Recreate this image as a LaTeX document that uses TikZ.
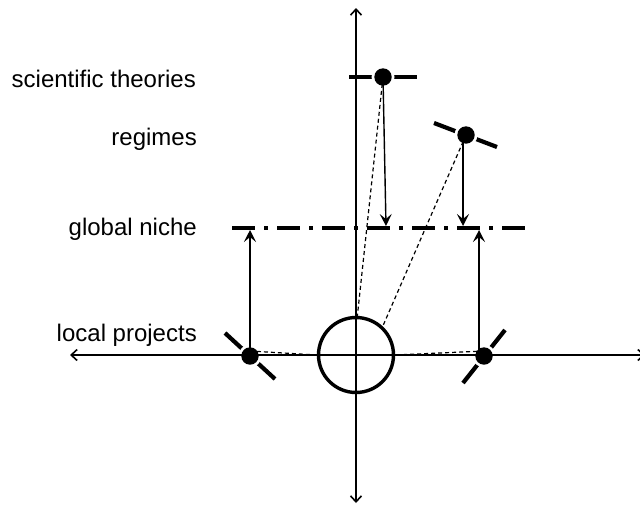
\documentclass[tikz,border=0pt]{standalone}
\usepackage{fontspec}
\setmainfont{Liberation Sans}
\usetikzlibrary{arrows.meta}
\begin{document}
\begin{tikzpicture}[x=1pt,y=-1pt,
  axis/.style={line width=1.4pt,{Straight Barb[length=6pt,width=11pt,line width=1.6pt]}-{Straight Barb[length=6pt,width=11pt,line width=1.6pt]}},
  proj/.style={line width=1.4pt,-{Stealth[length=12pt,width=12pt,inset=5pt]}},
  bar/.style={line width=4.2pt},
  link/.style={line width=1.2pt,dash pattern=on 4pt off 3pt},
  niche/.style={line width=3.2pt,dash pattern=on 23pt off 9pt on 4pt off 9pt},
  dotgap/.style={fill=white},
  lab/.style={anchor=base east,inner sep=0pt,font=\fontsize{24}{29}\selectfont}]
\useasboundingbox (0,0) rectangle (640,506);
% positions
\coordinate (st) at (383,77);
\coordinate (rg) at (466,135);
\coordinate (ld) at (250,356);
\coordinate (rd) at (484,356);
\coordinate (ldL) at (250,351);
\coordinate (rdL) at (484,351);
\coordinate (nl) at (232,228);
\coordinate (nr) at (527,228);
\coordinate (stT) at (386,226);
\coordinate (rgS) at (463,135);
\coordinate (rgT) at (463,226);
\coordinate (ldT) at (250,230);
\coordinate (rdS) at (479,356);
\coordinate (rdT) at (479,230);
\coordinate (xl) at (70,355);
\coordinate (xr) at (645,355);
\coordinate (yt) at (356,8);
\coordinate (yb) at (356,503);
% labels
\node[lab] (l1) at (196,87) {scientific theories};
\node[lab] (l2) at (197,145) {regimes};
\node[lab] (l3) at (197,235) {global niche};
\node[lab] (l4) at (197,341) {local projects};
% bars
\draw[bar] (st) ++(-34,0) -- ++(68,0);
\draw[bar] (rg) ++(-32,-12) -- ++(63,24);
\draw[bar] (ld) ++(-25,-23) -- ++(50,46);
\draw[bar] (rd) ++(-21,27) -- ++(42,-53);
\foreach \p in {st,rg,ld,rd} \fill[dotgap] (\p) circle (11.5pt);
% axes
\draw[axis] (xl) -- (xr);
\draw[axis] (yb) -- (yt);
% niche line
\draw[niche] (nl) -- (nr);
% circle
\node[circle,draw,line width=3.4pt,minimum size=75pt,inner sep=0pt] (o) at (356,355) {};
% dashed links
\draw[link] (st) -- (o.88);
\draw[link] (rg) -- (o.47);
\draw[link] (ldL) -- (o.west);
\draw[link] (rdL) -- (o.east);
% arrows
\draw[proj] (st) -- (stT);
\draw[proj] (rgS) -- (rgT);
\draw[proj] (ld) -- (ldT);
\draw[proj] (rdS) -- (rdT);
% dots
\foreach \p in {st,rg,ld,rd} \fill (\p) circle (8.7pt);
\end{tikzpicture}
\end{document}
